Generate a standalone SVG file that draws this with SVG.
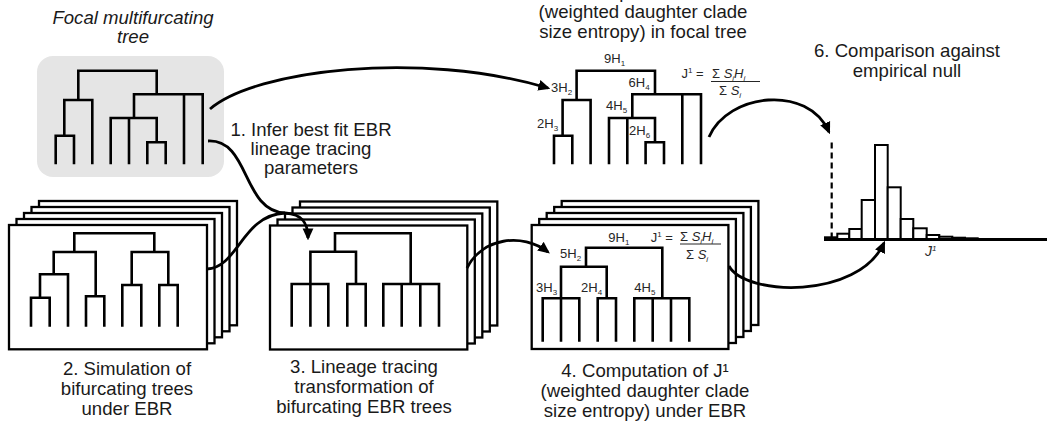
<svg xmlns="http://www.w3.org/2000/svg" width="1047" height="425" viewBox="0 0 1047 425">
<defs>
<style>
.t{font-family:"Liberation Sans",Arial,sans-serif;font-size:18.6px;fill:#1a1a1a;text-anchor:middle}
.it{font-style:italic}
.lb{font-family:"Liberation Sans",Arial,sans-serif;font-size:13px;fill:#262626}
.sb{font-size:8px}
.tree{fill:none;stroke:#000;stroke-width:2.6;stroke-linejoin:miter;stroke-linecap:butt}
.card{fill:#fff;stroke:#000;stroke-width:2.3}
.con{fill:none;stroke:#000;stroke-width:2.8}
.bar{fill:#fff;stroke:#000;stroke-width:2}
</style>
<marker id="ah" viewBox="0 0 10 10" refX="8" refY="5" markerWidth="12" markerHeight="12" markerUnits="userSpaceOnUse" orient="auto">
<path d="M0,0.5 L10,5 L0,9.5 Z" fill="#000"/>
</marker>
<path id="ftree" class="tree" d="M78.3,100 V70.7 H156.7 V94.3 M64.3,135.7 V100 H92.3 V164.3 M55.7,164.3 V135.7 H74 V164.3 M134,118 V94.3 H202.7 V164.3 M184,94.3 V164.3 M110.7,164.3 V118 H156.7 V142.3 M129,118 V164.3 M147.3,164.3 V142.3 H165.7 V164.3"/>
</defs>
<rect width="1047" height="425" fill="#fff"/>

<g id="focal">
<text class="t it" x="133" y="24">Focal multifurcating</text>
<text class="t it" x="133" y="42.7">tree</text>
<rect x="37" y="56" width="187" height="121" rx="16" fill="#e5e5e5"/>
<use href="#ftree"/>
</g>

<g id="step1">
<text class="t" x="311" y="135.5">1. Infer best fit EBR</text>
<text class="t" x="311" y="154.5">lineage tracing</text>
<text class="t" x="311" y="173.5">parameters</text>
</g>

<g id="step5">
<text class="t" x="643" y="-2">5. Computation of J¹</text>
<text class="t" x="643" y="18">(weighted daughter clade</text>
<text class="t" x="643" y="38">size entropy) in focal tree</text>
<use href="#ftree" transform="translate(498.3,0)"/>
<text class="lb" x="604" y="63">9H<tspan class="sb" dy="3">1</tspan></text>
<text class="lb" x="551" y="91.5">3H<tspan class="sb" dy="3">2</tspan></text>
<text class="lb" x="628.5" y="87">6H<tspan class="sb" dy="3">4</tspan></text>
<text class="lb" x="606" y="110">4H<tspan class="sb" dy="3">5</tspan></text>
<text class="lb" x="537" y="128.3">2H<tspan class="sb" dy="3">3</tspan></text>
<text class="lb" x="629" y="135">2H<tspan class="sb" dy="3">6</tspan></text>
<text class="lb" x="681.5" y="78.3">J<tspan class="sb" dy="-5">1</tspan><tspan dy="5"> =</tspan></text>
<text class="lb" x="712" y="77.5">Σ <tspan class="it">S</tspan><tspan class="sb it" dy="3">i</tspan><tspan class="it" dy="-3">H</tspan><tspan class="sb it" dy="3">i</tspan></text>
<line x1="711" y1="81.5" x2="760" y2="81.5" stroke="#262626" stroke-width="1"/>
<text class="lb" x="719" y="95">Σ <tspan class="it">S</tspan><tspan class="sb it" dy="3">i</tspan></text>
</g>

<g id="step2">
<rect class="card" x="39" y="201" width="198" height="124.3"/>
<rect class="card" x="31.5" y="207" width="198" height="124.3"/>
<rect class="card" x="24" y="213" width="198" height="124.3"/>
<rect class="card" x="16.5" y="219" width="198" height="124.3"/>
<rect class="card" x="9" y="225" width="198" height="124.3"/>
<path class="tree" d="M74.3,252 V233.3 H154.3 V252 M53.7,274.3 V252 H95.7 V296.3 M40,297.7 V274.3 H68 V326.7 M31,326.7 V297.7 H49.7 V326.7 M86,326.7 V296.3 H104.3 V326.7 M131.7,285 V252 H168.3 V285 M122.3,326.7 V285 H141.3 V326.7 M159.3,326.7 V285 H177.7 V326.7"/>
<text class="t" x="127" y="375">2. Simulation of</text>
<text class="t" x="127" y="395">bifurcating trees</text>
<text class="t" x="127" y="415">under EBR</text>
</g>

<g id="step3">
<rect class="card" x="300" y="201.5" width="197.3" height="124"/>
<rect class="card" x="292.5" y="207.5" width="197.3" height="124"/>
<rect class="card" x="285" y="213.5" width="197.3" height="124"/>
<rect class="card" x="277.5" y="219.5" width="197.3" height="124"/>
<rect class="card" x="270" y="225.5" width="197.3" height="124"/>
<path class="tree" d="M335,251.7 V233.3 H410.7 V284 M310.4,326.7 V251.7 H356 V284 M291.7,326.7 V284 H328.3 V326.7 M347.3,326.7 V284 H365.7 V326.7 M383.3,326.7 V284 H439 V326.7 M401.7,284 V326.7 M420.3,284 V326.7"/>
<text class="t" x="364" y="373">3. Lineage tracing</text>
<text class="t" x="364" y="393">transformation of</text>
<text class="t" x="364" y="413">bifurcating EBR trees</text>
</g>

<g id="step4">
<rect class="card" x="561.7" y="201" width="196.7" height="124"/>
<rect class="card" x="554.2" y="207" width="196.7" height="124"/>
<rect class="card" x="546.7" y="213" width="196.7" height="124"/>
<rect class="card" x="539.2" y="219" width="196.7" height="124"/>
<rect class="card" x="531.7" y="225" width="196.7" height="124"/>
<path class="tree" d="M586,266.7 V247.7 H662.3 V298.3 M561,341.7 V266.7 H606.7 V298.3 M542.7,341.7 V298.3 H579.3 V341.7 M597.7,341.7 V298.3 H616 V341.7 M634.3,341.7 V298.3 H689.3 V341.7 M652.7,298.3 V341.7 M671,298.3 V341.7"/>
<text class="lb" x="608.3" y="241.5">9H<tspan class="sb" dy="3">1</tspan></text>
<text class="lb" x="560" y="258.3">5H<tspan class="sb" dy="3">2</tspan></text>
<text class="lb" x="536" y="291.7">3H<tspan class="sb" dy="3">3</tspan></text>
<text class="lb" x="581" y="291.7">2H<tspan class="sb" dy="3">4</tspan></text>
<text class="lb" x="634.3" y="291.7">4H<tspan class="sb" dy="3">5</tspan></text>
<text class="lb" x="650.7" y="241.5">J<tspan class="sb" dy="-5">1</tspan><tspan dy="5"> =</tspan></text>
<text class="lb" x="680" y="240.5">Σ <tspan class="it">S</tspan><tspan class="sb it" dy="3">i</tspan><tspan class="it" dy="-3">H</tspan><tspan class="sb it" dy="3">i</tspan></text>
<line x1="680" y1="244" x2="721" y2="244" stroke="#262626" stroke-width="1"/>
<text class="lb" x="686" y="259">Σ <tspan class="it">S</tspan><tspan class="sb it" dy="3">i</tspan></text>
<text class="t" x="645" y="377">4. Computation of J¹</text>
<text class="t" x="645" y="397">(weighted daughter clade</text>
<text class="t" x="645" y="417">size entropy) under EBR</text>
</g>

<g id="step6">
<text class="t" x="907" y="57">6. Comparison against</text>
<text class="t" x="907" y="77">empirical null</text>
<rect class="bar" x="825" y="237.3" width="12.3" height="2"/>
<rect class="bar" x="837.3" y="233.7" width="12" height="5.6"/>
<rect class="bar" x="849.3" y="229" width="12.4" height="10.3"/>
<rect class="bar" x="861.7" y="200" width="13.3" height="39.3"/>
<rect class="bar" x="875" y="145" width="12.7" height="94.3"/>
<rect class="bar" x="887.7" y="187.3" width="13" height="52"/>
<rect class="bar" x="900.7" y="219" width="12.6" height="20.3"/>
<rect class="bar" x="913.3" y="228.3" width="13.4" height="11"/>
<rect class="bar" x="926.7" y="235" width="12.6" height="4.3"/>
<rect class="bar" x="939.3" y="236.7" width="13" height="2.6"/>
<rect class="bar" x="952.3" y="237.7" width="12.7" height="1.6"/>
<rect class="bar" x="965" y="238.3" width="12.7" height="1"/>
<line x1="824" y1="239.5" x2="1047" y2="239.5" stroke="#000" stroke-width="3.2"/>
<line x1="831.7" y1="142.5" x2="831.7" y2="238" stroke="#000" stroke-width="2.2" stroke-dasharray="6,4"/>
<text class="lb it" x="925" y="256" style="font-size:14px">J<tspan class="sb" dy="-5">1</tspan></text>
</g>

<g id="connectors">
<path class="con" d="M210,109 C255,70 420,50 548,88" marker-end="url(#ah)"/>
<path class="con" d="M208,141 C250,139 242,211 285,213 C303,214 308,224 308,238" marker-end="url(#ah)"/>
<path class="con" d="M207,269 C238,268 242,215 285,213"/>
<path class="con" d="M467,268 C482,238 522,232 548,252" marker-end="url(#ah)"/>
<path class="con" d="M709,137 C728,93 808,84 829,132" marker-end="url(#ah)"/>
<path class="con" d="M729,266 C745,296 858,300 884,243" marker-end="url(#ah)"/>
</g>
</svg>
